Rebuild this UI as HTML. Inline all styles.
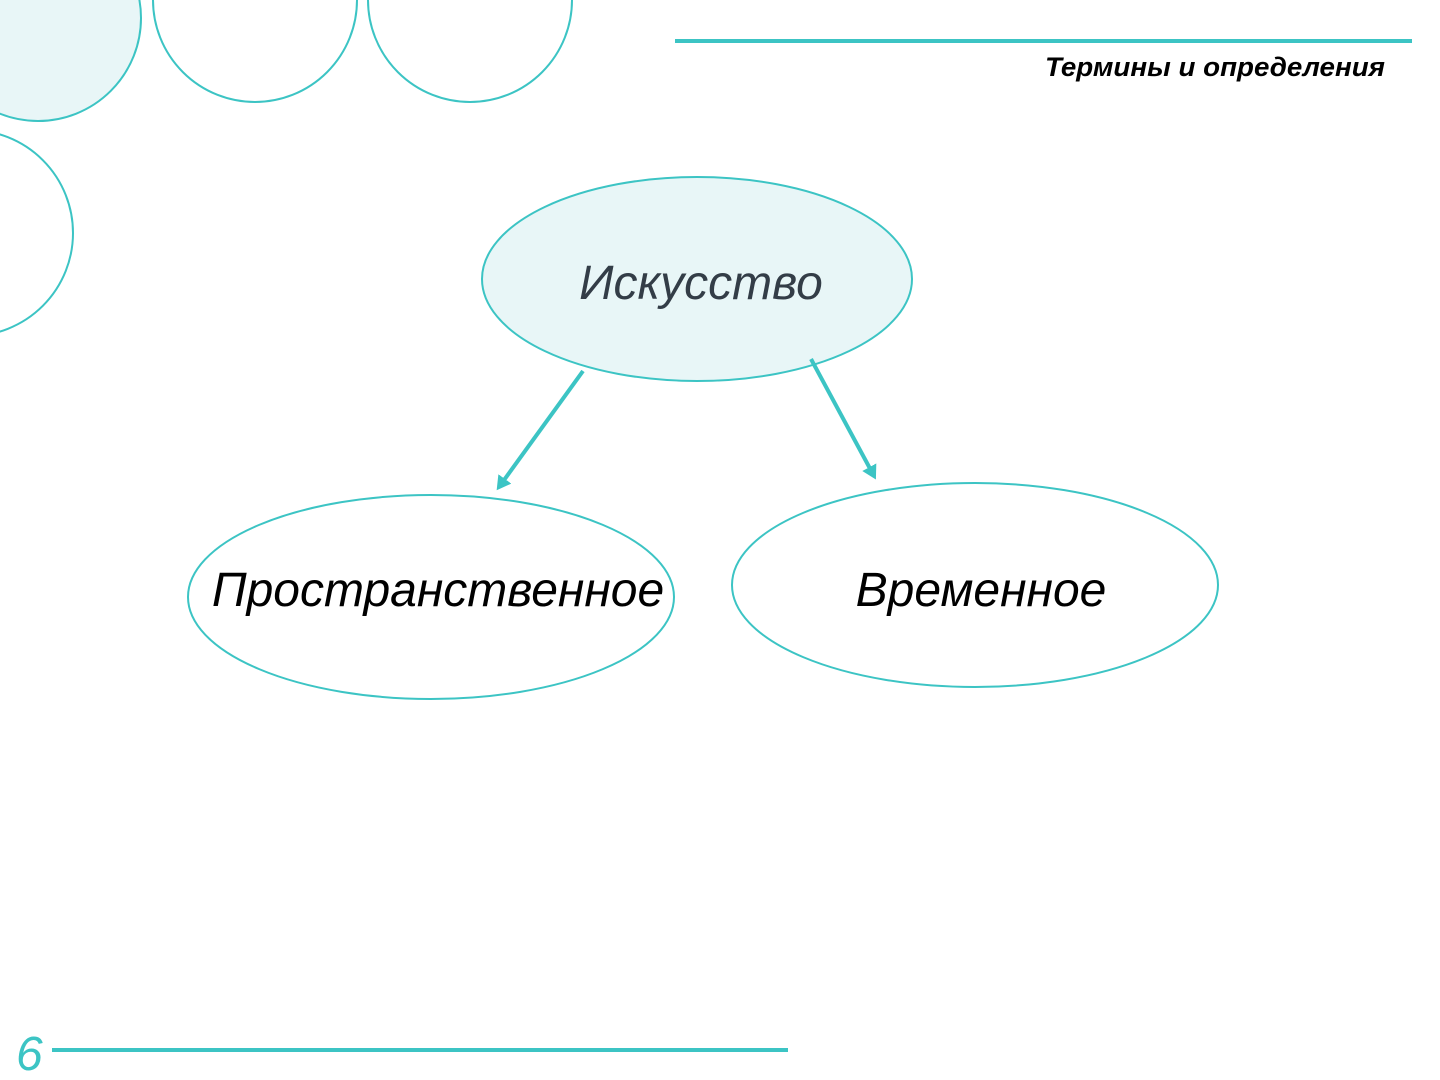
<!DOCTYPE html>
<html><head><meta charset="utf-8"><style>
html,body{margin:0;padding:0;background:#fff;}
svg{display:block;}
</style></head><body>
<svg width="1440" height="1080" viewBox="0 0 1440 1080" xmlns="http://www.w3.org/2000/svg">
<defs>
<marker id="ah" markerWidth="4" markerHeight="4" refX="2.5" refY="2" orient="auto" markerUnits="strokeWidth">
<path d="M0,0 L3.5,2 L0,4 Z" fill="#3cc4c4"/>
</marker>
</defs>
<g stroke="#3cc4c4" stroke-width="2">
<circle cx="38" cy="18" r="103" fill="#e8f6f7"/>
<circle cx="255" cy="0" r="102" fill="none"/>
<circle cx="470" cy="0" r="102" fill="none"/>
<circle cx="-30" cy="233" r="103" fill="none"/>
<ellipse cx="697" cy="279" rx="215" ry="102" fill="#e8f6f7"/>
<ellipse cx="431" cy="597" rx="243" ry="102" fill="none"/>
<ellipse cx="975" cy="585" rx="243" ry="102" fill="none"/>
</g>
<line x1="675" y1="41" x2="1412" y2="41" stroke="#3cc4c4" stroke-width="4"/>
<line x1="52" y1="1050" x2="788" y2="1050" stroke="#3cc4c4" stroke-width="4"/>
<line x1="583" y1="371" x2="499" y2="487" stroke="#3cc4c4" stroke-width="4" marker-end="url(#ah)"/>
<line x1="811" y1="359" x2="874" y2="476" stroke="#3cc4c4" stroke-width="4" marker-end="url(#ah)"/>
<g font-family="Liberation Sans, sans-serif" font-style="italic">
<text x="1045" y="76" font-size="27" font-weight="bold" fill="#000" textLength="340" lengthAdjust="spacingAndGlyphs">Термины и определения</text>
<text x="701" y="299" text-anchor="middle" font-size="48" fill="#333d47">Искусство</text>
<text x="438" y="606" text-anchor="middle" font-size="48" fill="#000">Пространственное</text>
<text x="981" y="606" text-anchor="middle" font-size="48" fill="#000">Временное</text>
<text x="16" y="1070" font-size="48" fill="#3cc4c4">6</text>
</g>
</svg>
</body></html>
